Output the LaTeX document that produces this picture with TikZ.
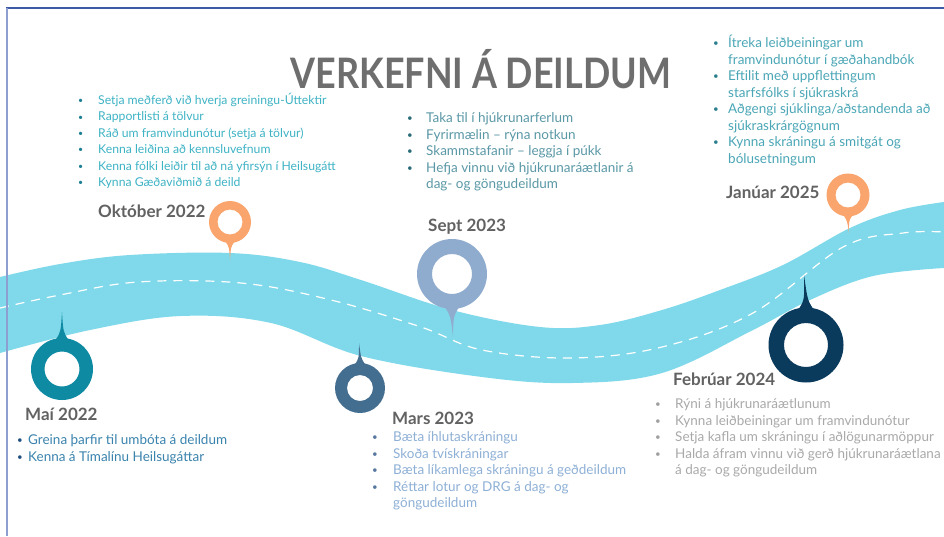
\documentclass[tikz,border=0pt]{standalone}
\usepackage{fontspec}
\setmainfont{Lato}
\definecolor{band}{HTML}{80D9EA}
\definecolor{framedark}{HTML}{3D5AA6}
\definecolor{framelight}{HTML}{8C9FD0}
\definecolor{titlegray}{HTML}{6E6E6E}
\definecolor{labelgray}{HTML}{626262}
\definecolor{pinteal}{HTML}{0E8AA3}
\definecolor{pinorange}{HTML}{F9A56D}
\definecolor{pinsky}{HTML}{8FACCE}
\definecolor{pinsteel}{HTML}{436E8F}
\definecolor{pinnavy}{HTML}{0A3A5C}
\definecolor{txtcyan}{HTML}{3EB3C5}
\definecolor{bulcyan}{HTML}{1E7F94}
\definecolor{txtslate}{HTML}{5A98A6}
\definecolor{bulslate}{HTML}{2A6B7A}
\definecolor{txtaqua}{HTML}{4AA6B6}
\definecolor{bulaqua}{HTML}{2A7F8F}
\definecolor{txtblue}{HTML}{3A83AD}
\definecolor{bulblue}{HTML}{1D4F80}
\definecolor{txtpale}{HTML}{8EB0D6}
\definecolor{bulpale}{HTML}{5577A0}
\definecolor{txtgray}{HTML}{A9A9A9}
\definecolor{bulgray}{HTML}{A0A0A0}
% list helpers: \bulletsetup{bullet colour}{indent}, \li = bulleted line, \lc = continuation line
\newcommand\bulletsetup[2]{\def\bc{#1}\def\bw{#2}}
\newcommand\li[1]{\makebox[\bw][l]{\textcolor{\bc}{\raisebox{0.12ex}{\scalebox{0.72}{\textbullet}}}}#1}
\newcommand\lc[1]{\hspace*{\bw}#1}
% map pin: centre x, centre y, outer r, inner r, tip x, tip y, colour, direction (+1 tail down, -1 tail up)
\newcommand\mappin[8]{%
  \fill[#7] ({#1-0.2*#3},{#2+#8*0.95*#3}) .. controls ({#1-0.04*#3},{#2+#8*1.2*#3}) .. (#5,#6)
        .. controls ({#1+0.04*#3},{#2+#8*1.2*#3}) .. ({#1+0.2*#3},{#2+#8*0.95*#3}) -- cycle;
  \fill[#7,even odd rule] (#1,#2) circle[radius=#3pt] (#1,#2) circle[radius=#4pt];
}
\tikzset{
  datelabel/.style={anchor=base west, inner sep=0pt, font=\bfseries\fontsize{17}{19}\selectfont, text=labelgray},
  tasklist/.style={anchor=base west, inner sep=0pt, font=\fontsize{13.5}{16.5}\selectfont},
}
\begin{document}
\begin{tikzpicture}[x=1pt,y=-1pt]
\useasboundingbox (0,0) rectangle (944,536);
\fill[white] (0,0) rectangle (944,536);

% road band
\fill[band] plot[smooth,tension=0.6] coordinates {(0,277) (60,264) (130,255) (230,253) (300,262) (361,280) (452,310) (540,327) (600,325) (662,310) (720,290) (783,265) (850,228) (900,210) (944,202)}
  -- plot[smooth,tension=0.6] coordinates {(944,268) (873,276) (810,300) (753,330) (662,373) (572,383) (482,377) (361,356) (271,323) (181,316) (90,330) (0,353)} -- cycle;
% centre dashes
\draw[white, line width=1.2pt, dash pattern=on 9pt off 7pt] plot[smooth,tension=0.6] coordinates {(0,308) (60,295) (138,282) (241,283) (331,300) (421,327) (482,350) (572,358) (662,347) (753,313) (843,247) (903,233) (944,232)};

% pins
\mappin{62}{369}{31}{17.5}{62}{312}{pinteal}{-1}
\mappin{230}{222}{21}{12.5}{230}{260}{pinorange}{1}
\mappin{452}{274}{35}{20}{453}{337}{pinsky}{1}
\mappin{360}{388}{25}{13}{359}{343}{pinsteel}{-1}
\mappin{806}{345}{37.5}{22}{804}{275}{pinnavy}{-1}
\mappin{848}{195}{21.5}{12.5}{849}{233}{pinorange}{1}

% frame
\draw[framedark, line width=1.5pt] (6,8) -- (944,8);
\draw[framelight, line width=2pt] (6.5,8) -- (6.5,536);

% title
\node[anchor=base, inner sep=0pt, text=titlegray, font=\bfseries\fontsize{42}{42}\selectfont] (title) at (481,88) {\scalebox{0.855}[1]{VERKEFNI Á DEILDUM}};

% date labels
\node[datelabel] (okt) at (98,217) {Október 2022};
\node[datelabel] (sept) at (428,231) {Sept 2023};
\node[datelabel] (jan) at (726,198) {Janúar 2025};
\node[datelabel] (mai) at (25,420) {Maí 2022};
\node[datelabel] (mars) at (392,424) {Mars 2023};
\node[datelabel] (feb) at (673,385) {Febrúar 2024};

% task lists
\node[tasklist, text=txtcyan, font=\fontsize{12.2}{16.4}\selectfont] (oktlist) at (78,104.5) {\bulletsetup{bulcyan}{20pt}\begin{tabular}[t]{@{}l@{}}
\li{Setja meðferð við hverja greiningu-Úttektir}\\
\li{Rapportlisti á tölvur}\\
\li{Ráð um framvindunótur (setja á tölvur)}\\
\li{Kenna leiðina að kennsluvefnum}\\
\li{Kenna fólki leiðir til að ná yfirsýn í Heilsugátt}\\
\li{Kynna Gæðaviðmið á deild}
\end{tabular}};

\node[tasklist, text=txtslate] (septlist) at (407,122.5) {\bulletsetup{bulslate}{19pt}\begin{tabular}[t]{@{}l@{}}
\li{Taka til í hjúkrunarferlum}\\
\li{Fyrirmælin – rýna notkun}\\
\li{Skammstafanir – leggja í púkk}\\
\li{Hefja vinnu við hjúkrunaráætlanir á}\\
\lc{dag- og göngudeildum}
\end{tabular}};

\node[tasklist, text=txtaqua] (janlist) at (713,47.5) {\bulletsetup{bulaqua}{15pt}\begin{tabular}[t]{@{}l@{}}
\li{Ítreka leiðbeiningar um}\\
\lc{framvindunótur í gæðahandbók}\\
\li{Eftilit með uppflettingum}\\
\lc{starfsfólks í sjúkraskrá}\\
\li{Aðgengi sjúklinga/aðstandenda að}\\
\lc{sjúkraskrárgögnum}\\
\li{Kynna skráningu á smitgát og}\\
\lc{bólusetningum}
\end{tabular}};

\node[tasklist, text=txtblue] (mailist) at (17,444.5) {\bulletsetup{bulblue}{11pt}\begin{tabular}[t]{@{}l@{}}
\li{Greina þarfir til umbóta á deildum}\\
\li{Kenna á Tímalínu Heilsugáttar}
\end{tabular}};

\node[tasklist, text=txtpale] (marslist) at (372,441.5) {\bulletsetup{bulpale}{21pt}\begin{tabular}[t]{@{}l@{}}
\li{Bæta íhlutaskráningu}\\
\li{Skoða tvískráningar}\\
\li{Bæta líkamlega skráningu á geðdeildum}\\
\li{Réttar lotur og DRG á dag- og}\\
\lc{göngudeildum}
\end{tabular}};

\node[tasklist, text=txtgray] (feblist) at (655,408.5) {\bulletsetup{bulgray}{20pt}\begin{tabular}[t]{@{}l@{}}
\li{Rýni á hjúkrunaráætlunum}\\
\li{Kynna leiðbeiningar um framvindunótur}\\
\li{Setja kafla um skráningu í aðlögunarmöppur}\\
\li{Halda áfram vinnu við gerð hjúkrunaráætlana}\\
\lc{á dag- og göngudeildum}
\end{tabular}};
\end{tikzpicture}
\end{document}
